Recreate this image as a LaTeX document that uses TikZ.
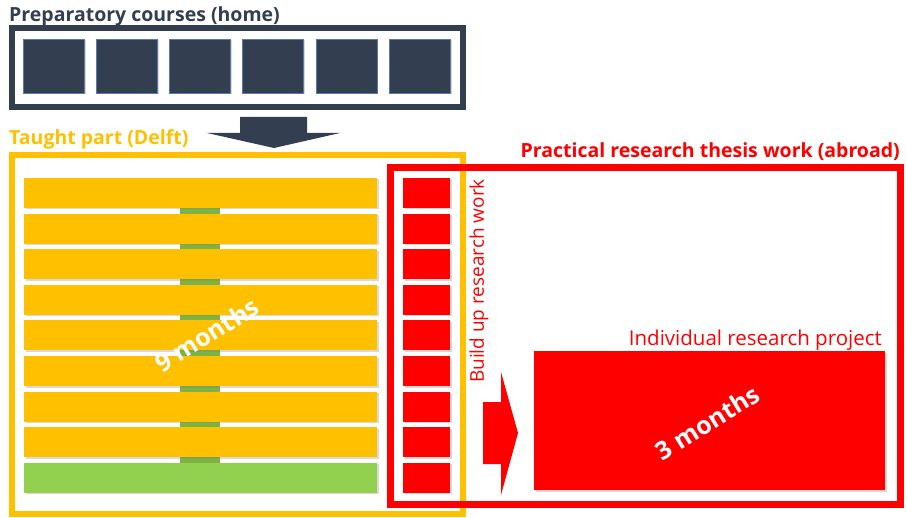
\documentclass[tikz,border=0pt]{standalone}
\usepackage{fontspec}
\setmainfont{Open Sans}
\usetikzlibrary{shadows}
\definecolor{navy}{HTML}{333F50}
\definecolor{navyedge}{HTML}{5A7BA6}
\definecolor{gold}{HTML}{FFC000}
\definecolor{leaf}{HTML}{92D050}
\definecolor{leafdark}{HTML}{7CB342}
\definecolor{signal}{HTML}{FF0000}
\tikzset{
  frame/.style={draw, rectangle, inner sep=0pt, outer sep=0pt, anchor=north west},
  block/.style={rectangle, inner sep=0pt, outer sep=0pt, anchor=north west,
    drop shadow={opacity=0.3, shadow xshift=1.5pt, shadow yshift=-1.5pt}},
  heading/.style={inner sep=0pt, font=\bfseries\fontsize{19.5}{23}\selectfont},
  months/.style={rotate=32, text=white, font=\bfseries\fontsize{25}{30}\selectfont},
}
\begin{document}
\begin{tikzpicture}[x=1pt, y=-1pt]
  \useasboundingbox (0,0) rectangle (907,518);
  % preparatory courses
  \node[heading, anchor=base west, text=navy] (hometitle) at (9,22) {Preparatory courses (home)};
  \node[frame, draw=navy, line width=6pt, minimum width=451pt, minimum height=78.5pt] (home) at (12,28.5) {};
  \foreach \i in {0,...,5}
    \node[block, fill=navy, draw=navyedge, minimum width=61pt, minimum height=54pt] (course\i) at (23+73.2*\i,39) {};
  \fill[navy] (240,117) -- (307,117) -- (307,133) -- (340,133) -- (274,148) -- (207,133) -- (240,133) -- cycle;
  % taught part
  \node[heading, anchor=base west, text=gold] (delfttitle) at (9,145) {Taught part (Delft)};
  \node[frame, draw=gold, line width=6pt, minimum width=451pt, minimum height=359pt] (delft) at (12,155) {};
  \fill[leafdark] (180,205) rectangle (220,464);
  \foreach \i in {0,...,7}
    \node[block, fill=gold, minimum width=353pt, minimum height=30pt] (bar\i) at (24,178+35.6*\i) {};
  \node[block, fill=leaf, minimum width=353pt, minimum height=30pt] (bar8) at (24,178+35.6*8) {};
  \node[months] (nine) at (207,335) {9 months};
  % research thesis
  \node[heading, anchor=base east, text=signal] (abroadtitle) at (900,158) {Practical research thesis work (abroad)};
  \node[frame, draw=signal, line width=7pt, minimum width=510pt, minimum height=337pt] (abroad) at (390,167.5) {};
  \foreach \i in {0,...,8}
    \node[block, fill=signal, minimum width=47pt, minimum height=30pt] (build\i) at (403,178+35.6*\i) {};
  \node[rotate=90, text=signal, font=\fontsize{19}{22}\selectfont] (buildlabel) at (479,281) {Build up research work};
  \fill[signal] (483,402) -- (501,402) -- (501,372) -- (518,433) -- (501,495) -- (501,464) -- (483,464) -- cycle;
  \node[block, fill=signal, minimum width=351pt, minimum height=139pt] (project) at (534,351) {};
  \node[anchor=base east, inner sep=0pt, text=signal, font=\fontsize{20.5}{24}\selectfont] (projectlabel) at (882,345) {Individual research project};
  \node[months] (three) at ([xshift=-2pt,yshift=-2pt]project.center) {3 months};
\end{tikzpicture}
\end{document}
